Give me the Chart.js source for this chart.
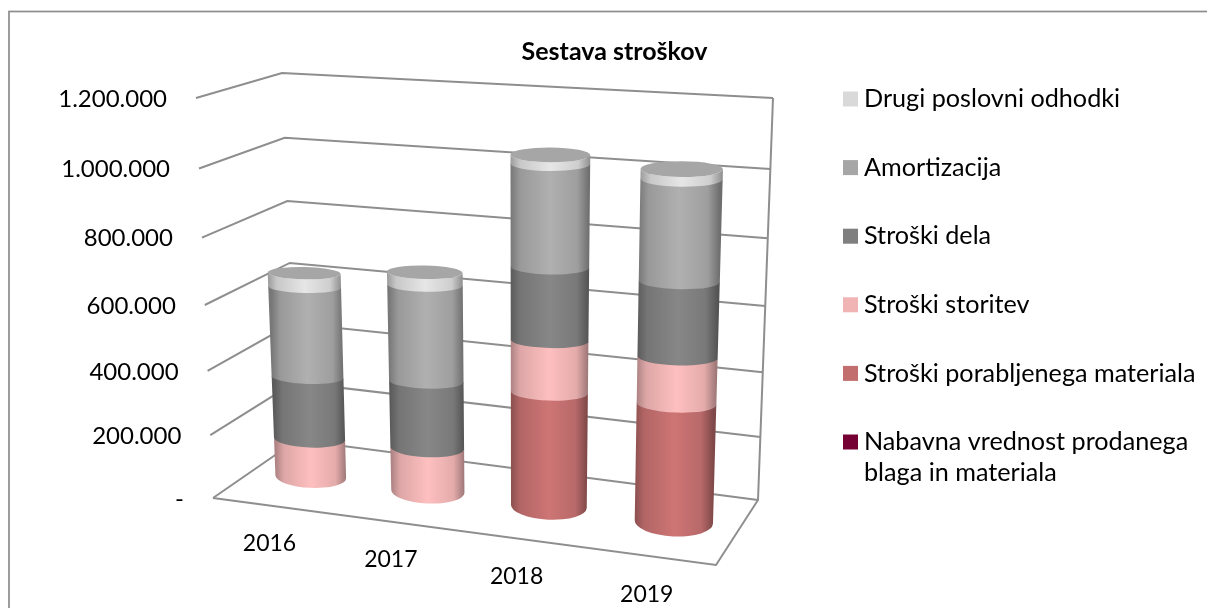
<!DOCTYPE html>
<html>
<head>
<meta charset="utf-8">
<title>Sestava stroškov</title>
<script src="https://cdn.jsdelivr.net/npm/chart.js@4/dist/chart.umd.min.js"></script>
<style>
    html, body { margin: 0; background: #fff; overflow: hidden; }
    canvas { display: block; }
</style>
</head>
<body>
<canvas id="stroskiChart" width="1207" height="608"></canvas>
<script>
// podatki, odčitani s slike
const leta = ["2016", "2017", "2018", "2019"];
const nabavnaVrednost = [0, 0, 0, 0];
const stroskiMateriala = [0, 0, 353000, 358000];
const stroskiStoritev = [123000, 138000, 157000, 138000];
const stroskiDela = [200000, 211000, 217000, 220000];
const amortizacija = [284000, 295000, 297000, 288000];
const drugiOdhodki = [42000, 38000, 25000, 27000];
const osY = { max: 1200000, korak: 200000 };

const FONT = "Lato, 'Open Sans', sans-serif";

// vogali 3D okvirja: tla in vrh (spredaj/zadaj, levo/desno)
const tla = { fl: [213, 498], fr: [716, 565], br: [758, 500], bl: [297, 440] };
const vrh = { fl: [196, 98], fr: [727, 126], br: [773, 98], bl: [282, 73] };

function bilerp(q, u, w, i) {
    const front = q.fl[i] + (q.fr[i] - q.fl[i]) * u;
    const back = q.bl[i] + (q.br[i] - q.bl[i]) * u;
    return front + (back - front) * w;
}

// u = 0..1 vzdolž osi x, w = globina, t = 0..1 vzdolž osi y
function project(u, w, t) {
    const uu = u - 0.07 * u * (1 - u);
    const tt = t - 0.07 * t * (1 - t);
    return [0, 1].map((i) => {
        const a = bilerp(tla, uu, w, i);
        return a + (bilerp(vrh, uu, w, i) - a) * tt;
    });
}

function shade(hex, k) {
    const n = parseInt(hex.slice(1), 16);
    const c = [n >> 16, (n >> 8) & 255, n & 255].map((v) => Math.min(255, Math.round(v * k)));
    return "rgb(" + c.join(",") + ")";
}

class CylinderElement extends Chart.BarElement {
    static id = "cylinder";

    draw(ctx) {
        const chart = this.ctrl.chart;
        const xs = chart.scales.x, ys = chart.scales.y;
        const { x, y, base, width } = this.getProps(["x", "y", "base", "width"]);
        if (Math.abs(base - y) < 0.5) return;

        const ring = (px) => {
            const t = (ys.bottom - px) / (ys.bottom - ys.top);
            const uc = (x - xs.left) / xs.width;
            const w = 0.5 + 0.05 * uc;
            const l = project((x - width / 2 - xs.left) / xs.width, w, t);
            const r = project((x + width / 2 - xs.left) / xs.width, w, t);
            const c = project(uc, w, t);
            const ry = (10.5 + 4.5 * uc) * (0.55 + 0.45 * Math.pow(1 - t, 6));
            return { cx: (l[0] + r[0]) / 2 - 1.5, cy: c[1], rx: (r[0] - l[0]) / 2, ry: ry, rot: 0.045 * (1 - t) };
        };
        const a = ring(base), b = ring(y);
        const color = this.options.backgroundColor;

        const g = ctx.createLinearGradient(a.cx - a.rx, 0, a.cx + a.rx, 0);
        g.addColorStop(0, shade(color, 0.72));
        g.addColorStop(0.12, shade(color, 0.92));
        g.addColorStop(0.5, shade(color, 1.06));
        g.addColorStop(0.85, shade(color, 0.95));
        g.addColorStop(1, shade(color, 0.66));

        ctx.save();
        ctx.fillStyle = g;
        ctx.beginPath();
        ctx.ellipse(a.cx, a.cy + 0.7, a.rx, a.ry, a.rot, Math.PI, 0, true);
        ctx.ellipse(b.cx, b.cy, b.rx, b.ry, b.rot, 0, Math.PI, false);
        ctx.closePath();
        ctx.fill();

        // pokrov na vrhu stolpca
        if (this.ctrl.index === chart.data.datasets.length - 1) {
            ctx.fillStyle = "#a6a6a6";
            ctx.beginPath();
            ctx.ellipse(b.cx, b.cy, b.rx, b.ry, b.rot, 0, Math.PI * 2);
            ctx.fill();
        }
        ctx.restore();
    }
}

class CylinderController extends Chart.BarController {
    static id = "cylinder";
    static defaults = { ...Chart.BarController.defaults, dataElementType: "cylinder" };
    static overrides = Chart.BarController.overrides;

    draw() {
        this._cachedMeta.data.forEach((el) => { el.ctrl = this; });
        super.draw();
    }
}

Chart.register(CylinderController, CylinderElement);

// okvir, mreža, oznake osi in legenda
const okvirPlugin = {
    id: "okvir",
    beforeDatasetsDraw(chart) {
        const ctx = chart.ctx, ys = chart.scales.y;
        ctx.save();
        ctx.strokeStyle = "#8c8c8c";
        ctx.lineWidth = 1.7;
        ctx.strokeRect(9, 11.5, 1300, 700);

        ctx.strokeStyle = "#8e8e8e";
        ctx.lineWidth = 2;
        ctx.lineJoin = "miter";
        ys.ticks.forEach((tick) => {
            const t = tick.value / osY.max;
            const p = [project(0, 0, t), project(0, 1, t), project(1, 1, t)];
            ctx.beginPath();
            p.forEach((q, i) => (i ? ctx.lineTo(q[0], q[1]) : ctx.moveTo(q[0], q[1])));
            ctx.stroke();

            ctx.fillStyle = "#000";
            ctx.font = "24px " + FONT;
            ctx.textAlign = "right";
            ctx.textBaseline = "middle";
            ctx.fillText(tick.label, p[0][0] - 29, p[0][1] + 1);
        });
        // desni rob stene in sprednji rob tal
        const rob = [project(1, 1, 1), project(1, 1, 0), project(1, 0, 0), project(0, 0, 0)];
        ctx.beginPath();
        rob.forEach((q, i) => (i ? ctx.lineTo(q[0], q[1]) : ctx.moveTo(q[0], q[1])));
        ctx.stroke();

        const xs = chart.scales.x;
        ctx.fillStyle = "#000";
        ctx.font = "23px " + FONT;
        ctx.textAlign = "center";
        xs.ticks.forEach((tick, i) => {
            const u = (xs.getPixelForTick(i) - xs.left) / xs.width;
            const q = project(u, 0, 0);
            ctx.fillText(tick.label, q[0] - 2.5, q[1] + 38);
        });

        ctx.font = "25.2px " + FONT;
        ctx.textAlign = "left";
        let ly = 99;
        chart.data.datasets.slice().reverse().forEach((ds) => {
            ctx.fillStyle = ds.backgroundColor;
            ctx.fillRect(843, ly - 7.5, 15, 15);
            ctx.fillStyle = "#000";
            [].concat(ds.label).forEach((line, i) => ctx.fillText(line, 864, ly + i * 31));
            ly += 68.6;
        });
        ctx.restore();
    }
};

new Chart(document.getElementById("stroskiChart"), {
    type: "cylinder",
    data: {
        labels: leta,
        datasets: [
            { label: ["Nabavna vrednost prodanega", "blaga in materiala"], data: nabavnaVrednost, backgroundColor: "#750034", clip: false },
            { label: "Stroški porabljenega materiala", data: stroskiMateriala, backgroundColor: "#c26e6e", clip: false },
            { label: "Stroški storitev", data: stroskiStoritev, backgroundColor: "#f0b4b4", clip: false },
            { label: "Stroški dela", data: stroskiDela, backgroundColor: "#7f7f7f", clip: false },
            { label: "Amortizacija", data: amortizacija, backgroundColor: "#a6a6a6", clip: false },
            { label: "Drugi poslovni odhodki", data: drugiOdhodki, backgroundColor: "#d9d9d9", clip: false }
        ]
    },
    options: {
        responsive: false,
        animation: false,
        layout: { padding: { left: 22, top: 37 } },
        barPercentage: 0.62,
        categoryPercentage: 1,
        scales: {
            x: { stacked: true, display: false },
            y: {
                stacked: true,
                display: false,
                min: 0,
                max: osY.max,
                ticks: {
                    stepSize: osY.korak,
                    callback: (v) => (v === 0 ? "-" : v.toLocaleString("de-DE"))
                }
            }
        },
        plugins: {
            legend: { display: false },
            tooltip: { enabled: false },
            title: {
                display: true,
                text: "Sestava stroškov",
                color: "#000",
                font: { family: FONT, size: 25, weight: "bold" },
                padding: { top: 0, bottom: 0 }
            }
        }
    },
    plugins: [okvirPlugin]
});
</script>
</body>
</html>
